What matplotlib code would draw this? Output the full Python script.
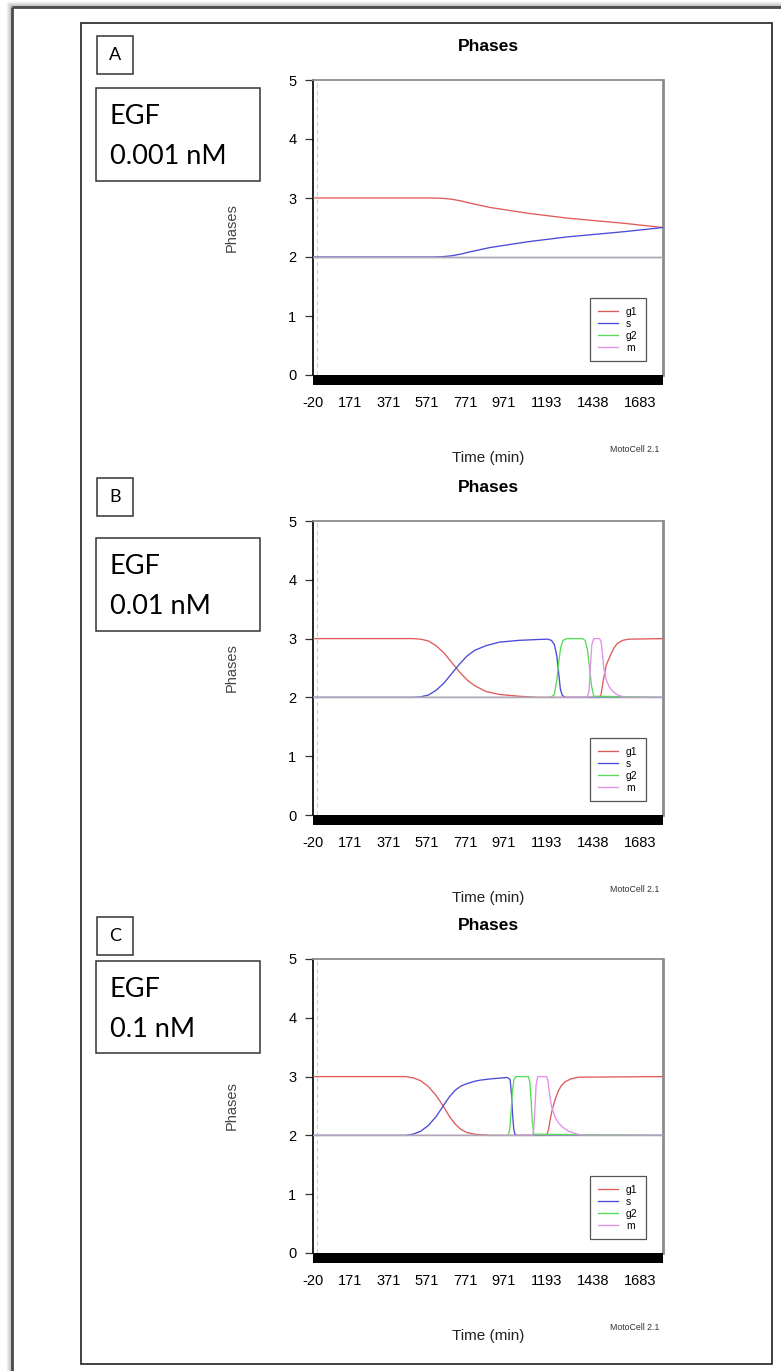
import matplotlib
matplotlib.use("Agg")
import matplotlib.pyplot as plt
from matplotlib.patches import Rectangle

# ---------------- data ----------------
time_ticks = [-20, 171, 371, 571, 771, 971, 1193, 1438, 1683]
phase_ticks = [0, 1, 2, 3, 4, 5]
series_names = ["g1", "s", "g2", "m"]
series_colors = ["#e05a5a", "#4a4ad8", "#55dd55", "#e48fea"]
panel_letters = ["A", "B", "C"]
egf_doses = ["0.001 nM", "0.01 nM", "0.1 nM"]

# Panel A: EGF 0.001 nM
a_g1_t = [-20, 600, 650, 700, 750, 800, 900, 1000, 1100, 1200, 1300, 1400, 1500, 1600, 1700, 1800]
a_g1 = [3.0, 3.0, 2.995, 2.98, 2.95, 2.91, 2.84, 2.79, 2.74, 2.70, 2.66, 2.63, 2.60, 2.57, 2.535, 2.50]
a_s_t = [-20, 600, 650, 700, 750, 800, 900, 1000, 1100, 1200, 1300, 1400, 1500, 1600, 1700, 1800]
a_s = [2.0, 2.0, 2.005, 2.02, 2.05, 2.09, 2.16, 2.21, 2.26, 2.30, 2.34, 2.37, 2.40, 2.43, 2.465, 2.50]
a_g2_t = [-20, 1800]
a_g2 = [2.0, 2.0]
a_m_t = [-20, 1800]
a_m = [2.0, 2.0]

# Panel B: EGF 0.01 nM
b_g1_t = [-20, 500, 540, 580, 620, 660, 700, 740, 780, 820, 880, 950, 1050, 1150,
          1470, 1478, 1490, 1505, 1527, 1545, 1563, 1590, 1620, 1800]
b_g1 = [3.0, 3.0, 2.99, 2.96, 2.88, 2.76, 2.6, 2.44, 2.3, 2.2, 2.1, 2.05, 2.02, 2.0,
        2.0, 2.05, 2.3, 2.55, 2.72, 2.84, 2.92, 2.97, 2.99, 3.0]
b_s_t = [-20, 500, 540, 580, 620, 660, 700, 740, 780, 820, 880, 950, 1050, 1150,
         1200, 1220, 1235, 1248, 1258, 1266, 1275, 1290, 1800]
b_s = [2.0, 2.0, 2.01, 2.04, 2.12, 2.24, 2.4, 2.56, 2.7, 2.8, 2.88, 2.94, 2.97, 2.985,
       2.99, 2.97, 2.9, 2.7, 2.4, 2.15, 2.04, 2.0, 2.0]
b_g2_t = [-20, 1215, 1235, 1248, 1258, 1268, 1280, 1300, 1380, 1395, 1408, 1418, 1428, 1440, 1800]
b_g2 = [2.0, 2.0, 2.05, 2.3, 2.6, 2.85, 2.97, 3.0, 3.0, 2.97, 2.8, 2.5, 2.2, 2.02, 2.0]
b_m_t = [-20, 1405, 1415, 1422, 1430, 1440, 1470, 1478, 1485, 1492, 1505, 1520, 1540,
         1565, 1595, 1620, 1800]
b_m = [2.0, 2.0, 2.1, 2.5, 2.9, 3.0, 3.0, 2.95, 2.75, 2.5, 2.3, 2.18, 2.1,
       2.04, 2.01, 2.0, 2.0]

# Panel C: EGF 0.1 nM
c_g1_t = [-20, 460, 500, 540, 580, 620, 657, 690, 720, 750, 780, 820, 900, 1195,
          1205, 1215, 1225, 1240, 1255, 1270, 1290, 1320, 1360, 1800]
c_g1 = [3.0, 3.0, 2.98, 2.93, 2.83, 2.68, 2.5, 2.32, 2.19, 2.1, 2.05, 2.02, 2.0, 2.0,
        2.1, 2.3, 2.45, 2.62, 2.75, 2.84, 2.91, 2.96, 2.99, 3.0]
c_s_t = [-20, 460, 500, 540, 580, 620, 657, 690, 720, 750, 780, 820, 850, 900, 990,
         1005, 1012, 1018, 1024, 1030, 1040, 1800]
c_s = [2.0, 2.0, 2.02, 2.07, 2.17, 2.32, 2.5, 2.66, 2.77, 2.84, 2.88, 2.92, 2.94, 2.96, 2.985,
       2.95, 2.7, 2.35, 2.1, 2.02, 2.0, 2.0]
c_g2_t = [-20, 995, 1003, 1010, 1017, 1025, 1035, 1100, 1108, 1114, 1120, 1128, 1800]
c_g2 = [2.0, 2.0, 2.1, 2.4, 2.75, 2.95, 3.0, 3.0, 2.9, 2.6, 2.25, 2.02, 2.0]
c_m_t = [-20, 1122, 1128, 1134, 1140, 1148, 1195, 1202, 1210, 1220, 1240, 1260, 1282,
         1310, 1355, 1400, 1800]
c_m = [2.0, 2.0, 2.1, 2.45, 2.85, 3.0, 3.0, 2.93, 2.7, 2.5, 2.3, 2.2, 2.13,
       2.07, 2.02, 2.0, 2.0]

panels = [
    [(a_g1_t, a_g1), (a_s_t, a_s), (a_g2_t, a_g2), (a_m_t, a_m)],
    [(b_g1_t, b_g1), (b_s_t, b_s), (b_g2_t, b_g2), (b_m_t, b_m)],
    [(c_g1_t, c_g1), (c_s_t, c_s), (c_g2_t, c_g2), (c_m_t, c_m)],
]

# ---------------- layout (pixel geometry) ----------------
W, H = 781, 1371
fig = plt.figure(figsize=(W / 100, H / 100), dpi=100)
fig.patch.set_facecolor("white")

plot_font = ["Liberation Sans", "DejaVu Sans"]
box_font = ["Lato", "DejaVu Sans"]

# decoration layer in pixel coordinates
deco = fig.add_axes([0, 0, 1, 1], zorder=-1)
deco.set_xlim(0, W)
deco.set_ylim(H, 0)
deco.axis("off")

# outer page edge with soft shadow
for i, a in enumerate([0.05, 0.08, 0.12, 0.17, 0.24]):
    off = 5 - i
    deco.plot([12 - off, 12 - off], [7 - off, H], color="black", alpha=a, lw=1, solid_capstyle="butt")
    deco.plot([12 - off, W], [7 - off, 7 - off], color="black", alpha=a, lw=1, solid_capstyle="butt")
deco.plot([12, 12], [7, H], color="#4a4a4a", lw=2.0, solid_capstyle="butt")
deco.plot([12, W], [7, 7], color="#4a4a4a", lw=2.0, solid_capstyle="butt")

# inner frame
deco.add_patch(Rectangle((81, 23), 691, 1341, fill=False, edgecolor="#333333", lw=1.3))

axes_px = [(80, 375), (521, 815), (959, 1253)]   # (top, bottom) of each plot
letter_boxes = [36, 478, 917]
egf_boxes = [(88, 181), (538, 631), (961, 1053)]
left_px, right_px = 313, 663

for k, (top, bot) in enumerate(axes_px):
    # panel letter
    ly = letter_boxes[k]
    deco.add_patch(Rectangle((97, ly), 36, 38, fill=False, edgecolor="#333333", lw=1.1))
    deco.text(115, ly + 19, panel_letters[k], ha="center", va="center",
              fontsize=13, family=box_font, color="black")
    # EGF dose box
    ey0, ey1 = egf_boxes[k]
    deco.add_patch(Rectangle((96, ey0), 164, ey1 - ey0, fill=False, edgecolor="#333333", lw=1.1))
    deco.text(110, ey0 + 36, "EGF", ha="left", va="baseline",
              fontsize=19.5, family=box_font, color="black")
    deco.text(110, ey0 + 76, egf_doses[k], ha="left", va="baseline",
              fontsize=19.5, family=box_font, color="black")

    ax = fig.add_axes([left_px / W, 1 - bot / H, (right_px - left_px) / W, (bot - top) / H])
    ax.set_facecolor("white")

    for (t, v), name, col in zip(panels[k], series_names, series_colors):
        ax.plot(t, v, color=col, lw=0.95, label=name, zorder=3)
    # shared baseline of the phase tracks
    ax.axhline(2, color="#a9a9b0", lw=1.0, alpha=0.75, zorder=4)
    ax.axvline(0, color="#cfcfcf", lw=0.8, ls=(0, (4, 3)), zorder=1)

    ax.set_xlim(-20, 1800)
    ax.set_ylim(0, 5)
    ax.set_xticks(time_ticks)
    ax.set_xticklabels([str(t) for t in time_ticks], family=plot_font, fontsize=10.5)
    ax.set_yticks(phase_ticks)
    ax.set_yticklabels([str(p) for p in phase_ticks], family=plot_font, fontsize=10.5)
    ax.tick_params(axis="x", length=0, pad=15)
    ax.tick_params(axis="y", length=6, width=0.9, pad=6, color="#333333")

    ax.spines["left"].set_color("black")
    ax.spines["left"].set_linewidth(1.2)
    ax.spines["top"].set_color("#8c8c8c")
    ax.spines["top"].set_linewidth(1.3)
    ax.spines["right"].set_color("#8c8c8c")
    ax.spines["right"].set_linewidth(2.0)
    ax.spines["bottom"].set_visible(False)
    # thick black time bar under the plot
    ax.add_patch(Rectangle((0, -10 / (bot - top)), 1, 10 / (bot - top), transform=ax.transAxes,
                           facecolor="black", edgecolor="none", clip_on=False, zorder=5))

    ax.set_title("Phases", family=plot_font, fontsize=12.5, fontweight="bold", pad=21)
    ax.set_ylabel("Phases", family=plot_font, fontsize=10.5, color="#444444")
    ax.yaxis.set_label_coords(-0.211, 0.5)
    ax.set_xlabel("Time (min)", family=plot_font, fontsize=11, color="#222222")
    ax.xaxis.set_label_coords(0.5, -83 / (bot - top) + 0.025)
    ax.text(0.991, -74 / (bot - top), "MotoCell 2.1", transform=ax.transAxes, ha="right",
            va="center", fontsize=6.3, family=plot_font, color="#333333")

    leg = ax.legend(loc="lower right", bbox_to_anchor=(0.951, 0.047),
                    frameon=True, fancybox=False, edgecolor="#555555", framealpha=1,
                    handlelength=1.9, handletextpad=0.75, labelspacing=0.2,
                    borderpad=0.8, borderaxespad=0, prop={"family": plot_font, "size": 7.5})
    leg.get_frame().set_linewidth(0.9)

fig.savefig("out.png", dpi=100, facecolor="white")
